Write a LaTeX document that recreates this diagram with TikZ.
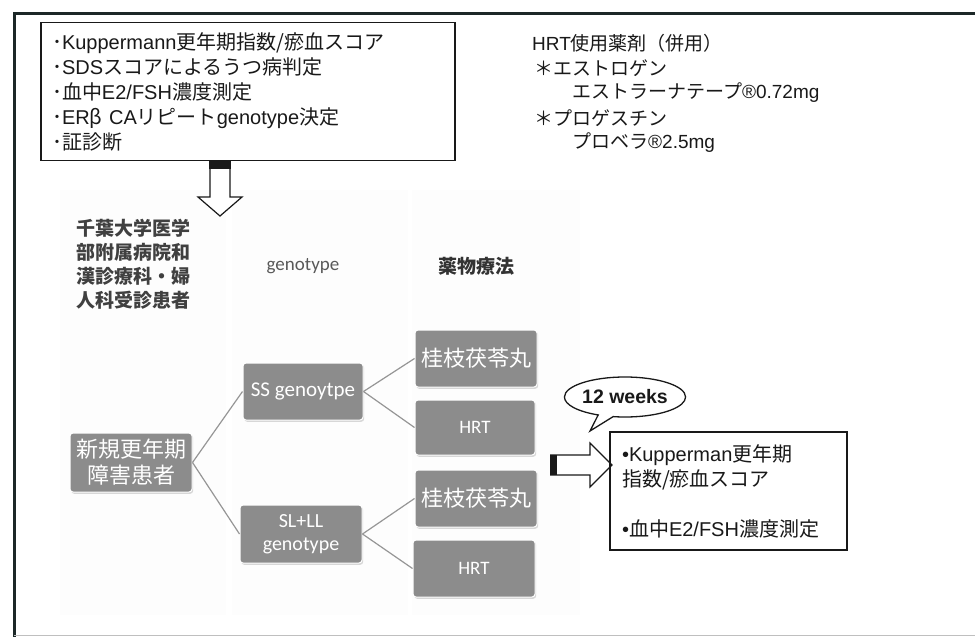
\documentclass[tikz,border=0pt]{standalone}
\usepackage{fontspec}
\setmainfont{Liberation Sans}
\newfontfamily\jp{Noto Sans CJK JP}
\newfontfamily\carlfont{Carlito}
\usetikzlibrary{shapes.callouts,shadows}
\newcommand\J[1]{{\jp #1}}
\definecolor{boxgray}{RGB}{140,140,140}
\definecolor{txt}{RGB}{25,25,25}
\definecolor{frame}{RGB}{28,40,40}
\definecolor{conngray}{RGB}{150,150,150}
\tikzset{
  gbox/.style={rectangle, rounded corners=3pt, fill=boxgray, draw=white, line width=1pt,
    text=white, inner sep=0pt, align=center,
    drop shadow={shadow xshift=1.2pt, shadow yshift=-1.8pt, opacity=0.3}},
  conn/.style={draw=conngray, line width=1.2pt},
  infobox/.style={draw=txt, line width=1.3pt, inner ysep=0pt, align=left, text=txt},
  blockarrow/.style={draw=txt, line width=1.2pt, fill=white, line join=miter},
  colbg/.style={fill=black!0.8, draw=none}
}
\begin{document}
\begin{tikzpicture}[x=1pt, y=-1pt]
\useasboundingbox (0,0) rectangle (975,637);
\fill[white] (0,0) rectangle (975,637);
% faint column backgrounds
\fill[colbg] (60,190) rectangle (226,615);
\fill[colbg] (232,190) rectangle (408,615);
\fill[colbg] (412,190) rectangle (580,615);
% outer frame
\draw[frame, line width=3pt] (975,13) -- (14,13) -- (14,637);
\draw[black!25, line width=0.8pt] (14,635.5) -- (975,635.5);

% top-left info box
\node[infobox, minimum width=414pt, minimum height=138pt, inner xsep=11pt, text width=392pt,
  font=\fontsize{20pt}{25pt}\selectfont] (crit) at (248,91.5) {%
\J{･}Kuppermann\J{更年期指数/瘀血スコア}\\
\J{･}SDS\J{スコアによるうつ病判定}\\
\J{･血中}E2/FSH\J{濃度測定}\\
\J{･}ER\J{β}\ CA\J{リピート}genotype\J{決定}\\
\J{･証診断}};

% HRT drug text
\begin{scope}[every node/.style={anchor=west, inner sep=0pt, text=txt, font=\fontsize{19pt}{24pt}\selectfont}]
\node (hrt0) at (532,43) {HRT\J{使用薬剤（併用）}};
\node (hrt1) at (534,68) {\J{＊エストロゲン}};
\node (hrt2) at (572,93) {\J{エストラーナテープ}®0.72mg};
\node (hrt3) at (534,118) {\J{＊プロゲスチン}};
\node (hrt4) at (572,143) {\J{プロベラ}®2.5mg};
\end{scope}

% down block arrow
\draw[blockarrow] (210,161) -- (210,197) -- (198,197) -- (220,216) -- (242,197) -- (230,197) -- (230,161);
\fill[txt] (209,161) rectangle (231,169);

% column headers
\node[align=center, text=black!75, font=\jp\bfseries\fontsize{19pt}{24pt}\selectfont] (hosp) at (133,264)
  {千葉大学医学\\部附属病院和\\漢診療科・婦\\人科受診患者};
\node[text=black!65, font=\carlfont\fontsize{19pt}{22pt}\selectfont] (hgeno) at (303,266) {genotype};
\node[text=black!80, font=\jp\bfseries\fontsize{19pt}{22pt}\selectfont] (hdrug) at (476,266) {薬物療法};

% tree boxes
\node[gbox, minimum width=122pt, minimum height=59pt, font=\jp\fontsize{22pt}{26pt}\selectfont] (n1) at (131,462.5) {新規更年期\\障害患者};
\node[gbox, minimum width=120pt, minimum height=57pt, font=\carlfont\fontsize{21pt}{24pt}\selectfont] (ss) at (303,391.5) {SS genoytpe};
\node[gbox, minimum width=122pt, minimum height=58pt, font=\carlfont\fontsize{20pt}{23pt}\selectfont] (sl) at (301,534) {SL+LL\\genotype};
\node[gbox, minimum width=122pt, minimum height=57pt, font=\jp\fontsize{22pt}{26pt}\selectfont] (k1) at (476,358.5) {桂枝茯苓丸};
\node[gbox, minimum width=120pt, minimum height=55pt, font=\carlfont\fontsize{19pt}{22pt}\selectfont] (h1) at (475,427.5) {HRT};
\node[gbox, minimum width=122pt, minimum height=57pt, font=\jp\fontsize{22pt}{26pt}\selectfont] (k2) at (476,498.5) {桂枝茯苓丸};
\node[gbox, minimum width=122pt, minimum height=57pt, font=\carlfont\fontsize{19pt}{22pt}\selectfont] (h2) at (474,568.5) {HRT};

\draw[conn] (n1.east) -- (ss.west);
\draw[conn] (n1.east) -- (sl.west);
\draw[conn] (ss.east) -- (k1.west);
\draw[conn] (ss.east) -- (h1.west);
\draw[conn] (sl.east) -- (k2.west);
\draw[conn] (sl.east) -- (h2.west);

% right block arrow
\draw[blockarrow] (550,455) -- (590,455) -- (590,443) -- (612,465) -- (590,487) -- (590,475) -- (550,475);
\fill[txt] (550,455) rectangle (557,475);

% result box
\node[infobox, minimum width=237pt, minimum height=118pt, inner xsep=12pt, text width=213pt,
  font=\fontsize{20pt}{25pt}\selectfont] (res) at (728.5,491) {%
•Kupperman\J{更年期}\\
\J{指数/瘀血スコア}\\
\mbox{}\\
•\J{血中}E2/FSH\J{濃度測定}};

% callout
\node[ellipse callout, draw=txt, line width=1.3pt, fill=white, minimum width=110pt, minimum height=40pt,
  inner sep=0pt, callout absolute pointer={(590,431)}, text=txt,
  font=\bfseries\fontsize{19.5pt}{22pt}\selectfont] (wk) at (625,397) {12 weeks};
\end{tikzpicture}
\end{document}
